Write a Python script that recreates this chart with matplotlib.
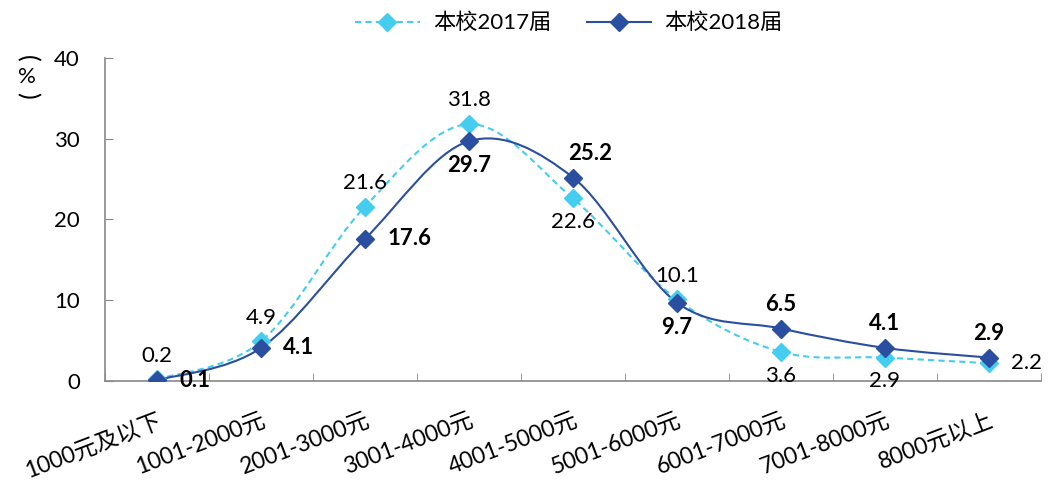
import numpy as np
import matplotlib
matplotlib.use('Agg')
import matplotlib.pyplot as plt
from matplotlib.path import Path
from matplotlib.patches import PathPatch
from matplotlib.lines import Line2D

# =========================
# DATA
# =========================
categories = ['1000元及以下', '1001-2000元', '2001-3000元', '3001-4000元', '4001-5000元',
              '5001-6000元', '6001-7000元', '7001-8000元', '8000元以上']
values_2017 = [0.2, 4.9, 21.6, 31.8, 22.6, 10.1, 3.6, 2.9, 2.2]
values_2018 = [0.1, 4.1, 17.6, 29.7, 25.2, 9.7, 6.5, 4.1, 2.9]
series_names = ['本校2017届', '本校2018届']

# label placement: 'a' above, 'ar' above-right, 'b' below, 'r' right
pos_2017 = ['a', 'a', 'a', 'a', 'b', 'a', 'b', 'b', 'r']
pos_2018 = ['r', 'r', 'r', 'b', 'ar', 'b', 'a', 'a', 'a']

C17 = '#45CDEF'
C18 = '#2A4FA0'
FS = 16

plt.rcParams['font.family'] = ['Lato', 'Noto Sans CJK SC', 'DejaVu Sans']


def smooth_path(xs, ys):
    # excel-like smoothed line: catmull-rom as cubic bezier
    pts = np.column_stack([xs, ys]).astype(float)
    n = len(pts)
    verts = [pts[0]]
    codes = [Path.MOVETO]
    for i in range(n - 1):
        p0 = pts[i - 1] if i > 0 else pts[i]
        p1 = pts[i]
        p2 = pts[i + 1]
        p3 = pts[i + 2] if i + 2 < n else pts[i + 1]
        c1 = p1 + (p2 - p0) / 6.0
        c2 = p2 - (p3 - p1) / 6.0
        verts += [c1, c2, p2]
        codes += [Path.CURVE4] * 3
    return Path(verts, codes)


fig = plt.figure(figsize=(10.48, 4.84), dpi=100)
ax = fig.add_axes([0.1002, 0.2128, 0.8931, 0.6674])

x = np.arange(len(categories))

for vals, color, ls in [(values_2017, C17, (0, (3, 2))), (values_2018, C18, '-')]:
    ax.add_patch(PathPatch(smooth_path(x, vals), fill=False, edgecolor=color,
                           linewidth=1.5, linestyle=ls, zorder=2))
    ax.plot(x, vals, linestyle='none', marker='D', markersize=9, color=color, zorder=3)

offsets = {'a': (0, 10, 'center', 'bottom'), 'ar': (12, 10, 'center', 'bottom'),
           'b': (0, -10, 'center', 'top'), 'r': (16, 0, 'left', 'center')}
for vals, poss, bold in [(values_2017, pos_2017, False), (values_2018, pos_2018, True)]:
    for xi, v, p in zip(x, vals, poss):
        dx, dy, ha, va = offsets[p]
        ax.annotate(f'{v:.1f}', (xi, v), xytext=(dx, dy), textcoords='offset points',
                    ha=ha, va=va, fontsize=FS, color='black',
                    fontweight='bold' if bold else 'normal')

ax.set_xlim(-0.5, len(categories) - 0.5)
ax.set_ylim(0, 40)
ax.set_yticks([0, 10, 20, 30, 40])
ax.set_xticks(x)
ax.set_xticklabels(categories, rotation=21, ha='right', rotation_mode='anchor', fontsize=16.5)
ax.set_xticks(np.arange(-0.5, len(categories), 1), minor=True)
ax.tick_params(axis='x', which='major', length=0, pad=21)
ax.tick_params(axis='x', which='minor', length=6, direction='in', color='#888888')
ax.tick_params(axis='y', length=6, direction='in', color='#888888', labelsize=FS, pad=18)

for s in ['top', 'right']:
    ax.spines[s].set_visible(False)
for s in ['left', 'bottom']:
    ax.spines[s].set_color('#888888')
    ax.spines[s].set_linewidth(1.2)

# vertical "(%)" unit label, parentheses turned to lie flat
fig.text(0.026, 0.880, '(', fontsize=18, rotation=270, ha='center', va='center')
fig.text(0.026, 0.841, '%', fontsize=FS, ha='center', va='center')
fig.text(0.026, 0.802, ')', fontsize=18, rotation=270, ha='center', va='center')

handles = [Line2D([], [], color=C17, linestyle=(0, (3, 2)), marker='D', markersize=9, linewidth=1.5),
           Line2D([], [], color=C18, linestyle='-', marker='D', markersize=9, linewidth=1.5)]
fig.legend(handles, series_names, loc='upper center', bbox_to_anchor=(0.543, 1.015), ncol=2,
           frameon=False, fontsize=FS, handlelength=2.9, handletextpad=0.6, columnspacing=1.6)

fig.savefig('out.png', dpi=100)
